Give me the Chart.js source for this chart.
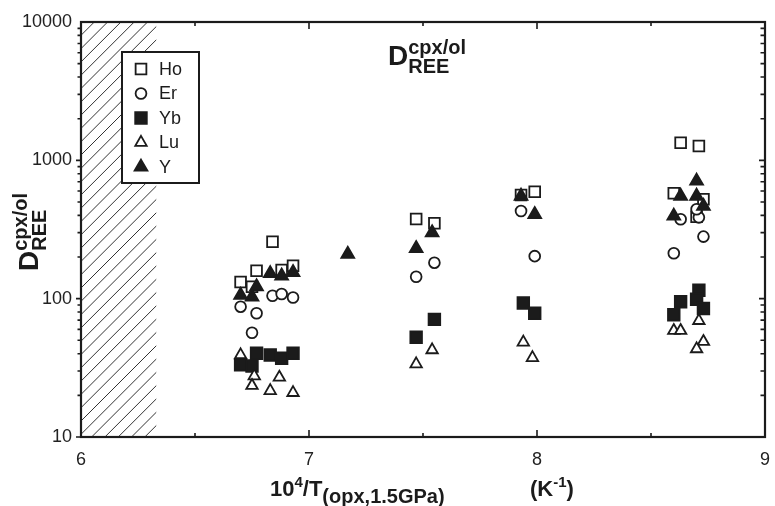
<!DOCTYPE html>
<html>
<head>
<meta charset="utf-8">
<script src="https://cdn.jsdelivr.net/npm/chart.js@4.4.1/dist/chart.umd.min.js"></script>
<style>
  html, body { margin: 0; padding: 0; background: #fff; }
</style>
</head>
<body>
<canvas id="dChart" width="775" height="506"></canvas>
<script>
// D(cpx/ol) for heavy REE vs 10^4/T
const hoX = [6.84, 6.77, 6.70, 6.75, 6.88, 6.93, 7.47, 7.55, 7.93, 7.99, 8.63, 8.71, 8.60, 8.73, 8.70];
const hoY = [258, 159, 132, 122, 161, 173, 377, 351, 561, 593, 1341, 1269, 578, 523, 391];

const erX = [6.84, 6.88, 6.93, 6.70, 6.77, 6.75, 7.55, 7.47, 7.93, 7.99, 8.63, 8.71, 8.70, 8.73, 8.60];
const erY = [105, 108, 102, 87.5, 78.4, 56.7, 182, 144, 430, 203, 375, 387, 443, 281, 213];

const ybX = [6.77, 6.70, 6.75, 6.83, 6.88, 6.93, 7.55, 7.47, 7.94, 7.99, 8.71, 8.63, 8.70, 8.73, 8.60];
const ybY = [40.3, 33.2, 32.6, 39.2, 37.1, 40.3, 70.9, 52.6, 93, 78.4, 115, 95, 99, 85, 76.6];

const luX = [6.70, 6.76, 6.75, 6.87, 6.83, 6.93, 7.54, 7.47, 7.94, 7.98, 8.60, 8.63, 8.71, 8.73, 8.70];
const luY = [39.2, 27.6, 23.5, 27.0, 21.6, 20.9, 42.6, 33.7, 48.4, 37.4, 58.7, 58.7, 69.3, 48.9, 43.3];

const yX = [6.83, 6.88, 6.93, 6.77, 6.70, 6.75, 7.17, 7.47, 7.54, 7.93, 7.99, 8.70, 8.63, 8.70, 8.73, 8.60];
const yY = [152, 146, 155, 122, 106, 103, 210, 231, 300, 552, 407, 709, 552, 552, 467, 396];

const xTicks = [6, 7, 8, 9];
const xMinorTicks = [6.5, 7.5, 8.5];
const yTicks = [10, 100, 1000, 10000];
const hatchRange = [6, 6.33];

const INK = "#1b1b1b";
const FONT = "'Liberation Sans', Arial, Helvetica, sans-serif";

const series = [
  { label: "Ho", xs: hoX, ys: hoY, style: "rect", r: 7.6, fill: "#fff", order: 5 },
  { label: "Er", xs: erX, ys: erY, style: "circle", r: 5.4, fill: "#fff", order: 4 },
  { label: "Yb", xs: ybX, ys: ybY, style: "rect", r: 8.2, fill: INK, order: 3 },
  { label: "Lu", xs: luX, ys: luY, style: "triangle", r: 6.6, fill: "#fff", order: 2 },
  { label: "Y", xs: yX, ys: yY, style: "triangle", r: 7.4, fill: INK, order: 1 },
];

function zip(xs, ys) {
  return xs.map((x, i) => ({ x: x, y: ys[i] }));
}

// little marker drawer for the legend box, same shapes as chart.js uses
function marker(ctx, s, x, y) {
  ctx.beginPath();
  if (s.style === "rect") {
    const h = s.r * Math.SQRT1_2;
    ctx.rect(x - h, y - h, 2 * h, 2 * h);
  } else if (s.style === "circle") {
    ctx.arc(x, y, s.r, 0, Math.PI * 2);
  } else {
    const a = (2 * Math.PI) / 3;
    ctx.moveTo(x, y - s.r);
    ctx.lineTo(x + Math.sin(a) * s.r, y - Math.cos(a) * s.r);
    ctx.lineTo(x + Math.sin(2 * a) * s.r, y - Math.cos(2 * a) * s.r);
    ctx.closePath();
  }
  ctx.fillStyle = s.fill;
  ctx.fill();
  ctx.lineWidth = 1.8;
  ctx.strokeStyle = INK;
  ctx.stroke();
}

// text with super/subscripts: parts = [text, size, dy, keepX]
function rich(ctx, x, y, parts) {
  let cx = x;
  for (const p of parts) {
    ctx.font = "bold " + p[1] + "px " + FONT;
    ctx.fillText(p[0], cx, y + p[2]);
    if (!p[3]) cx += ctx.measureText(p[0]).width;
  }
}

const decor = {
  id: "decor",
  beforeDatasetsDraw(chart) {
    const { ctx, chartArea: a, scales: { x } } = chart;
    const x0 = x.getPixelForValue(hatchRange[0]);
    const x1 = x.getPixelForValue(hatchRange[1]);
    const h = a.bottom - a.top;
    ctx.save();
    ctx.beginPath();
    ctx.rect(x0, a.top, x1 - x0, h);
    ctx.clip();
    ctx.beginPath();
    for (let s = x0 - h; s < x1 + 14; s += 13.3) {
      ctx.moveTo(s, a.bottom);
      ctx.lineTo(s + h, a.top);
    }
    ctx.lineWidth = 1;
    ctx.strokeStyle = "#333";
    ctx.stroke();
    ctx.restore();
  },
  afterDatasetsDraw(chart) {
    const { ctx, chartArea: a, scales: { x, y } } = chart;
    ctx.save();
    ctx.strokeStyle = INK;
    ctx.lineCap = "butt";

    // ticks
    ctx.lineWidth = 1.6;
    ctx.beginPath();
    xTicks.concat(xMinorTicks).forEach(v => {
      const px = x.getPixelForValue(v);
      const len = xTicks.includes(v) ? 7 : 4;
      ctx.moveTo(px, a.bottom); ctx.lineTo(px, a.bottom - len);
      ctx.moveTo(px, a.top); ctx.lineTo(px, a.top + len);
    });
    for (let d = 10; d < 10000; d *= 10) {
      for (let m = 1; m < 10; m++) {
        const py = y.getPixelForValue(d * m);
        const len = m === 1 ? 5 : 3.5;
        ctx.moveTo(a.left, py); ctx.lineTo(a.left - len, py);
        ctx.moveTo(a.right, py); ctx.lineTo(a.right - len - 1, py);
      }
    }
    ctx.stroke();

    // frame
    ctx.lineWidth = 2.2;
    ctx.strokeRect(a.left, a.top, a.right - a.left, a.bottom - a.top);

    // legend box
    const lx = a.left + 41, ly = a.top + 30;
    ctx.fillStyle = "#fff";
    ctx.fillRect(lx, ly, 77, 131);
    ctx.lineWidth = 2;
    ctx.strokeRect(lx, ly, 77, 131);
    series.forEach((s, i) => {
      const cy = ly + 17 + i * 24.5;
      marker(ctx, s, lx + 19, cy);
      ctx.fillStyle = INK;
      ctx.font = "18px " + FONT;
      ctx.textBaseline = "middle";
      ctx.fillText(s.label, lx + 37, cy + 1);
    });
    ctx.restore();
  },
  afterDraw(chart) {
    const { ctx } = chart;
    ctx.save();
    ctx.fillStyle = INK;
    ctx.textBaseline = "alphabetic";

    // title inside the plot
    rich(ctx, 388, 65, [["D", 28, 0], ["cpx/ol", 20, -11, true], ["REE", 20, 8]]);

    // x axis title
    rich(ctx, 270, 496, [["10", 22, 0], ["4", 15, -9], ["/T", 22, 0], ["(opx,1.5GPa)", 20, 7]]);
    rich(ctx, 530, 496, [["(K", 22, 0], ["-1", 15, -9], [")", 22, 0]]);

    // y axis title, rotated
    ctx.translate(38, 271);
    ctx.rotate(-Math.PI / 2);
    rich(ctx, 0, 0, [["D", 28, 0], ["cpx/ol", 20, -11, true], ["REE", 20, 8]]);
    ctx.restore();
  },
};

new Chart(document.getElementById("dChart"), {
  type: "scatter",
  data: {
    datasets: series.map(s => ({
      label: s.label,
      data: zip(s.xs, s.ys),
      pointStyle: s.style,
      pointRadius: s.r,
      pointHoverRadius: s.r,
      pointBorderWidth: 1.8,
      borderColor: INK,
      backgroundColor: s.fill,
      order: s.order,
    })),
  },
  options: {
    responsive: false,
    animation: false,
    events: [],
    layout: { padding: { top: 22, right: 8, left: 0, bottom: 0 } },
    plugins: { legend: { display: false }, tooltip: { enabled: false } },
    scales: {
      x: {
        type: "linear",
        min: 6,
        max: 9,
        grid: { display: false, drawTicks: false },
        border: { display: false },
        afterBuildTicks: s => { s.ticks = xTicks.map(v => ({ value: v })); },
        afterFit: s => { s.height = 69; s.paddingLeft = 0; s.paddingRight = 0; },
        ticks: { color: "#222", padding: 12, font: { family: FONT, size: 18 } },
      },
      y: {
        type: "logarithmic",
        min: 10,
        max: 10000,
        grid: { display: false, drawTicks: false },
        border: { display: false },
        afterBuildTicks: s => { s.ticks = yTicks.map(v => ({ value: v })); },
        afterFit: s => { s.width = 81; s.paddingTop = 0; s.paddingBottom = 0; },
        ticks: {
          color: "#222",
          padding: 9,
          autoSkip: false,
          font: { family: FONT, size: 18 },
          callback: v => String(v),
        },
      },
    },
  },
  plugins: [decor],
});
</script>
</body>
</html>
